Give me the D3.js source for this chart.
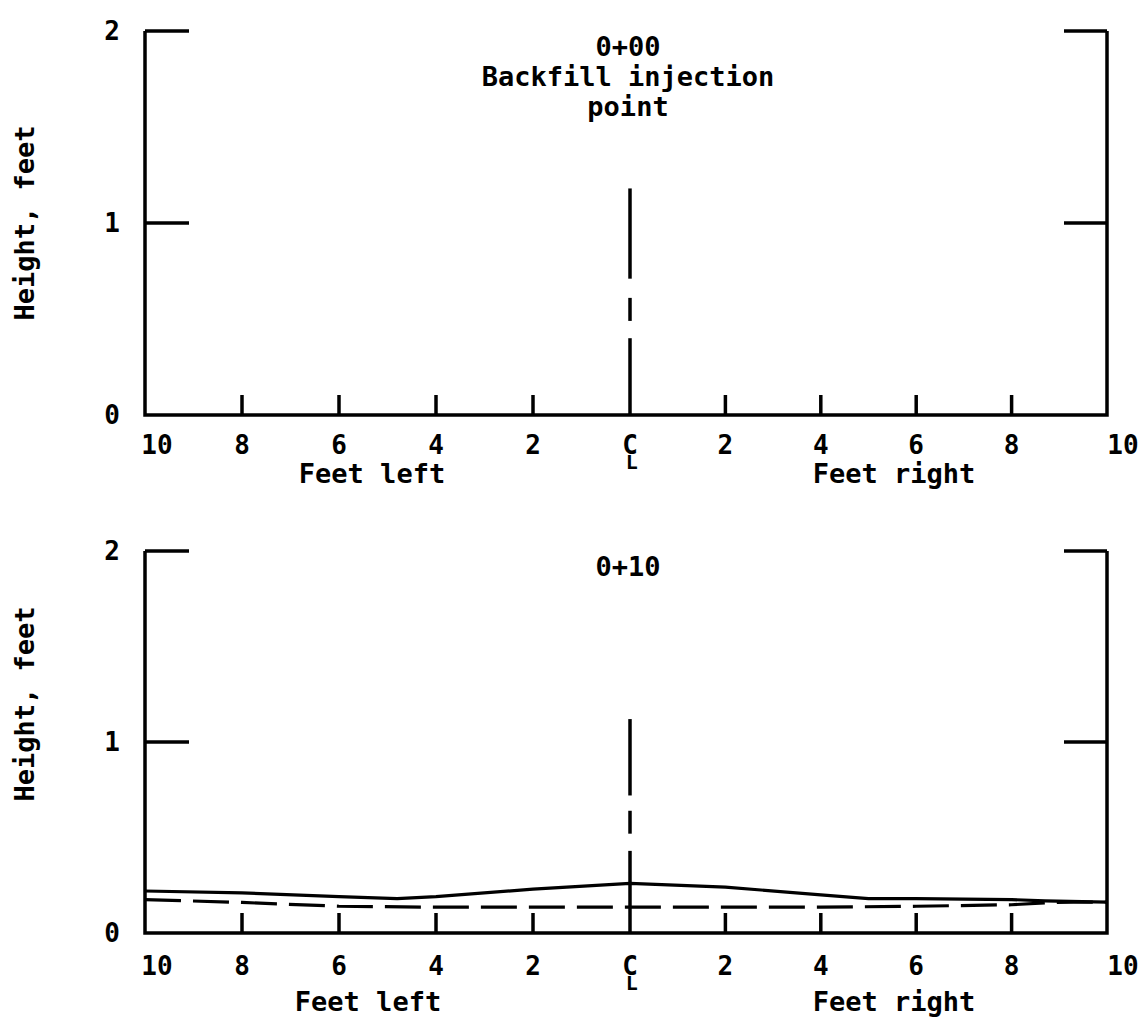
<!DOCTYPE html>
<html>
<head>
<meta charset="utf-8">
<script src="https://d3js.org/d3.v7.min.js"></script>
<style>
  body { margin: 0; background: #fff; }
  text { font-family: "DejaVu Sans Mono", monospace; font-weight: bold; fill: #000; }
</style>
</head>
<body>
<svg id="chart" width="1145" height="1019"></svg>
<script>
// Tick values and labels (feet left / right of centerline)
const xTicks = [-10, -8, -6, -4, -2, 0, 2, 4, 6, 8, 10];
const xTickLabels = ["10", "8", "6", "4", "2", "C", "2", "4", "6", "8", "10"];
const yTicks = [0, 1, 2];

// Station titles
const titlesTop = ["0+00", "Backfill injection", "point"];
const titlesBottom = ["0+10"];

// Centerline segments (height from, height to)
const centerTop = [[1.18, 0.71], [0.61, 0.49], [0.40, 0]];
const centerBottom = [[1.12, 0.72], [0.64, 0.52], [0.43, 0]];

// Station 0+10 profiles
const solidX = [-10, -8, -6, -4.8, -4, -2, 0, 2, 4, 5, 6, 8, 8.7, 10];
const solidY = [0.22, 0.21, 0.19, 0.18, 0.19, 0.23, 0.26, 0.24, 0.2, 0.18, 0.18, 0.175, 0.168, 0.162];
const dashedX = [-10, -8, -6, -4, -2, 0, 2, 4, 6, 8, 8.7, 9.3, 10];
const dashedY = [0.175, 0.16, 0.14, 0.135, 0.135, 0.135, 0.135, 0.135, 0.14, 0.148, 0.158, 0.162, 0.162];

const svg = d3.select("#chart");

// x scale: slightly uneven like the drawing
const x = d3.scaleLinear().domain([-10, 0, 10]).range([145, 630, 1107]);

function drawPanel(p) {
  const y = d3.scaleLinear().domain([0, 2]).range([p.bottom, p.top]);
  const g = svg.append("g");

  // frame: left, bottom, right
  g.append("path")
    .attr("d", `M${x(-10)},${y(2)}V${y(0)}H${x(10)}V${y(2)}`)
    .attr("fill", "none").attr("stroke", "#000").attr("stroke-width", 3.5);

  // y ticks inside, both sides
  yTicks.filter(d => d > 0).forEach(d => {
    g.append("line").attr("x1", x(-10)).attr("x2", x(-10) + 44)
      .attr("y1", y(d)).attr("y2", y(d)).attr("stroke", "#000").attr("stroke-width", 3.5);
    g.append("line").attr("x1", x(10) - 43).attr("x2", x(10))
      .attr("y1", y(d)).attr("y2", y(d)).attr("stroke", "#000").attr("stroke-width", 3.5);
  });

  // y tick labels
  g.selectAll(".ylab").data(yTicks).join("text")
    .attr("x", 112).attr("y", d => y(d))
    .attr("text-anchor", "middle").attr("dominant-baseline", "central")
    .attr("font-size", 26).text(d => d);

  // x ticks pointing up
  g.selectAll(".xtick").data(xTicks.filter(d => Math.abs(d) < 10 && d !== 0)).join("line")
    .attr("x1", d => x(d)).attr("x2", d => x(d))
    .attr("y1", y(0)).attr("y2", y(0) - 20)
    .attr("stroke", "#000").attr("stroke-width", 3.5);

  // x tick labels; centerline gets C with L underneath
  const xl = g.selectAll(".xlab").data(xTicks).join("text")
    .attr("x", d => x(d) + (d === -10 ? 12 : d === 10 ? 16 : 0))
    .attr("y", y(0) + p.tickOff)
    .attr("text-anchor", "middle").attr("dominant-baseline", "central")
    .attr("font-size", 26).text((d, i) => xTickLabels[i]);
  xl.filter(d => d === 0).append("tspan")
    .attr("dx", -12).attr("dy", 17).attr("font-size", 20).text("L");

  // axis titles
  g.append("text").attr("x", p.leftX).attr("y", y(0) + p.titleOff)
    .attr("text-anchor", "middle").attr("dominant-baseline", "central")
    .attr("font-size", 27).text("Feet left");
  g.append("text").attr("x", 894).attr("y", y(0) + p.titleOff)
    .attr("text-anchor", "middle").attr("dominant-baseline", "central")
    .attr("font-size", 27).text("Feet right");
  g.append("text")
    .attr("transform", `translate(24,${y(1) + p.yLabelShift}) rotate(-90)`)
    .attr("text-anchor", "middle").attr("dominant-baseline", "central")
    .attr("font-size", 27).text("Height, feet");

  // station titles
  g.selectAll(".title").data(p.titles).join("text")
    .attr("x", 628).attr("y", (d, i) => p.top + 15 + i * 30)
    .attr("text-anchor", "middle").attr("dominant-baseline", "central")
    .attr("font-size", 27).text(d => d);

  // centerline, long-short-long
  g.selectAll(".cl").data(p.center).join("line")
    .attr("x1", x(0)).attr("x2", x(0))
    .attr("y1", d => y(d[0])).attr("y2", d => y(d[1]))
    .attr("stroke", "#000").attr("stroke-width", 3.5);

  // profile lines
  const line = d3.line().x(d => x(d[0])).y(d => y(d[1]));
  p.lines.forEach(l => {
    g.append("path").datum(d3.zip(l.xs, l.ys))
      .attr("d", line).attr("fill", "none")
      .attr("stroke", "#000").attr("stroke-width", 3.2)
      .attr("stroke-dasharray", l.dash);
  });
}

drawPanel({ top: 31, bottom: 415, titles: titlesTop, center: centerTop, lines: [],
  tickOff: 30, titleOff: 58, leftX: 372, yLabelShift: 0 });
drawPanel({ top: 551, bottom: 933, titles: titlesBottom, center: centerBottom,
  lines: [
    { xs: solidX, ys: solidY, dash: null },
    { xs: dashedX, ys: dashedY, dash: "36,12" }
  ],
  tickOff: 33, titleOff: 68, leftX: 368, yLabelShift: -38 });
</script>
</body>
</html>
